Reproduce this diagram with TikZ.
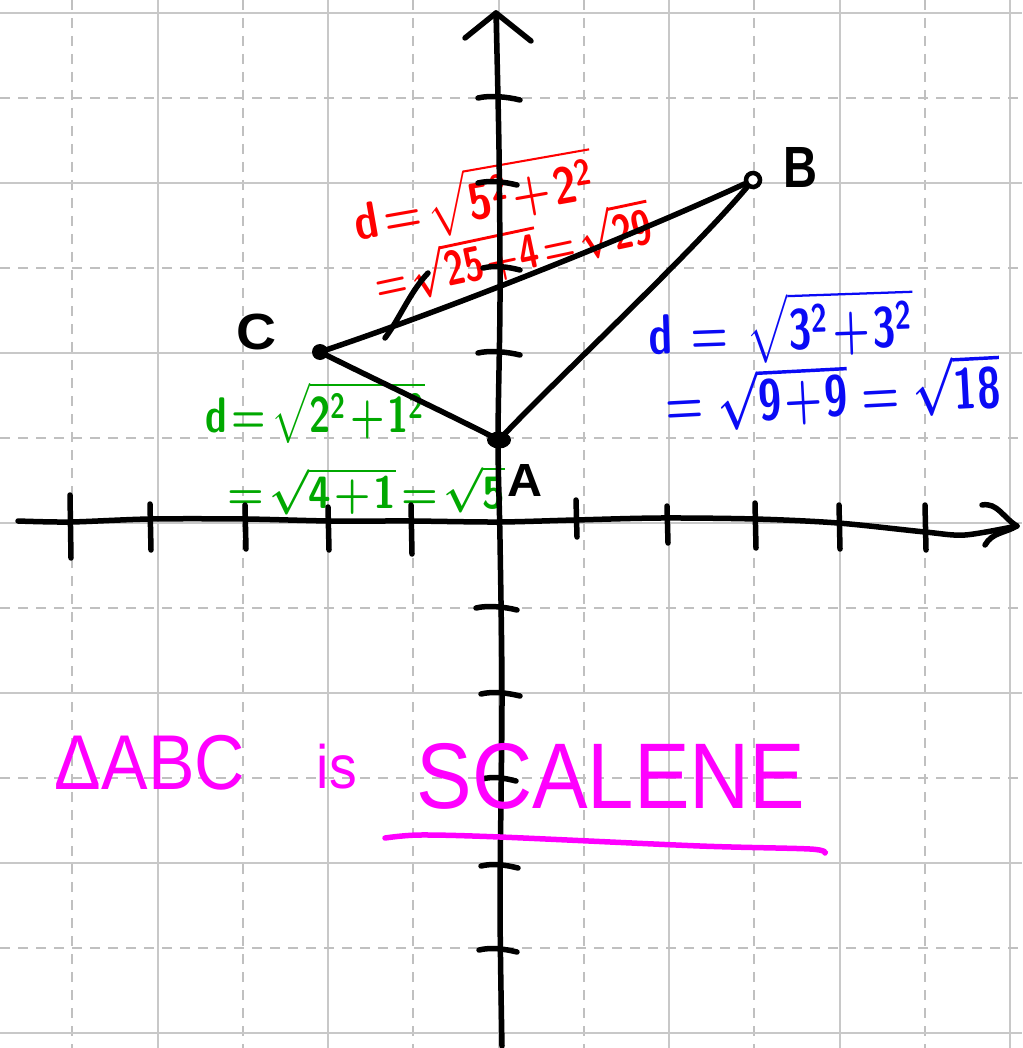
\documentclass[tikz,border=0pt]{standalone}
\usepackage{fontspec}
\usepackage{graphicx}
\usetikzlibrary{shapes.geometric}
\newfontfamily\hand{Liberation Sans}
\newcommand\hs[1]{\mathsf{#1}}
\newcommand\heq{\!=\!}
\newcommand\hpl{\!+\!}
\definecolor{gridsolid}{RGB}{200,200,200}
\definecolor{griddash}{RGB}{192,192,192}
\definecolor{hred}{RGB}{255,0,0}
\definecolor{hblue}{RGB}{10,10,245}
\definecolor{hgreen}{RGB}{0,168,0}
\definecolor{hmag}{RGB}{255,0,255}
\begin{document}
\begin{tikzpicture}[x=1pt,y=-1pt,
  pen/.style={line width=5.5pt, line cap=round, line join=round, draw=black},
  gridS/.style={draw=gridsolid, line width=2pt},
  gridD/.style={draw=griddash, line width=2pt, dash pattern=on 10pt off 8pt},
  txt/.style={inner sep=0pt, outer sep=0pt},
  lbl/.style={txt, font=\hand\bfseries, text=black},
  mag/.style={txt, font=\hand, text=hmag},
]
\fill[white] (0,0) rectangle (1022,1048);
\useasboundingbox (0,0) rectangle (1022,1048);
% grid
\foreach \x in {157.5,328,498.5,669,839.5,1010} \draw[gridS] (\x,0) -- (\x,1048);
\foreach \x in {72.25,242.75,413.25,583.75,754.25,924.75} \draw[gridD] (\x,0) -- (\x,1048);
\foreach \y in {13,183,353,523,693,863,1033} \draw[gridS] (0,\y) -- (1022,\y);
\foreach \y in {98,268,438,608,778,948} \draw[gridD] (0,\y) -- (1022,\y);

% distance texts
\node[txt, text=hred, rotate=10] (r1) at (474,199) {\resizebox*{244pt}{64pt}{\boldmath$\hs{d}\heq\sqrt{\hs{5}^{\hs{2}}\hpl\hs{2}^{\hs{2}}}$}};
\node[txt, text=hred, rotate=12] (r2) at (516,252) {\resizebox*{276pt}{54pt}{\boldmath$\heq\sqrt{\hs{25}\hpl\hs{4}}\heq\sqrt{\hs{29}}$}};
\node[txt, text=hblue, rotate=2] (b1) at (781,328) {\resizebox*{265pt}{70pt}{\boldmath$\hs{d}\;\heq\;\sqrt{\hs{3}^{\hs{2}}\hpl\hs{3}^{\hs{2}}}$}};
\node[txt, text=hblue, rotate=3] (b2) at (833,393) {\resizebox*{335pt}{64pt}{\boldmath$=\sqrt{\hs{9}\hpl\hs{9}}=\sqrt{\hs{18}}$}};
\node[txt, text=hgreen] (g1) at (315,413) {\resizebox*{220pt}{62pt}{\boldmath$\hs{d}\heq\sqrt{\hs{2}^{\hs{2}}\hpl\hs{1}^{\hs{2}}}$}};
\node[txt, text=hgreen] (g2) at (370,490) {\resizebox*{270pt}{50pt}{\boldmath$\heq\sqrt{\hs{4}\hpl\hs{1}}\heq\sqrt{\hs{5}}$}};

% axes
\coordinate (ytop) at (496,13);
\coordinate (ybot) at (502,1046);
\draw[pen] plot[smooth] coordinates {(ybot) (500,900) (502,700) (500,540) (498,440) (500,300) (499,150) (ytop)};
\draw[pen] (465,38) -- (ytop) -- (531,41);
\coordinate (xleft) at (18,521);
\coordinate (xright) at (1017,526);
\draw[pen] plot[smooth] coordinates {(xleft) (70,522) (150,519) (245,519) (330,521) (410,521) (498,522) (575,520) (660,518) (755,519) (838,523) (925,532) (965,535) (xright)};
\draw[pen] (982,505) to[out=10,in=150] (xright) to[out=-150,in=60] (985,545);
% x ticks
\foreach \x/\t/\b in {70/495/558,150/504/550,245/505/549,328/507/550,411/505/554,576/500/537,667/506/543,755/503/548,839/505/549,925/505/550}
  \draw[pen] (\x,\t) -- (\x+1,\b);
% y ticks
\foreach \y/\l/\r in {98/478/520,183/478/517,268/483/520,353/478/520,608/476/517,694/481/520,779/482/516,866/481/518,950/479/517}
  \draw[pen] (\l,\y) .. controls (\l+12,\y-3) and (\r-12,\y-1) .. (\r,\y+2);

% points
\node[circle, fill=black, minimum size=16pt, inner sep=0pt] (C) at (320,352) {};
\node[ellipse, fill=black, minimum width=24pt, minimum height=17pt, inner sep=0pt] (A) at (499,440) {};
\node[circle, draw=black, line width=4.5pt, minimum size=14pt, inner sep=0pt, fill=white] (B) at (753,180) {};

% triangle
\draw[pen] (C.center) .. controls (460,305) and (640,232) .. (B);
\draw[pen] (C.center) .. controls (380,382) and (440,410) .. (A.center);
\draw[pen] (A.center) .. controls (545,390) and (690,255) .. (B);
\draw[pen] (385,338) .. controls (400,318) and (410,292) .. (428,273);

% point labels
\node[lbl] (lC) at (257,332) {\resizebox*{40pt}{36pt}{C}};
\node[lbl] (lB) at (800,167) {\resizebox*{34pt}{40pt}{B}};
\node[lbl] (lA) at (525,480) {\resizebox*{35pt}{32pt}{A}};

% conclusion
\node[mag] (t1) at (150,763) {\resizebox*{190pt}{55pt}{ΔABC}};
\node[mag] (t2) at (337,767) {\resizebox*{40pt}{45pt}{is}};
\node[mag] (t3) at (611,776) {\resizebox*{389pt}{66pt}{SCALENE}};
\draw[line width=5.5pt, line cap=round, draw=hmag] plot[smooth] coordinates {(385,838) (420,835) (500,837) (700,846) (810,849) (825,853)};
\end{tikzpicture}
\end{document}
